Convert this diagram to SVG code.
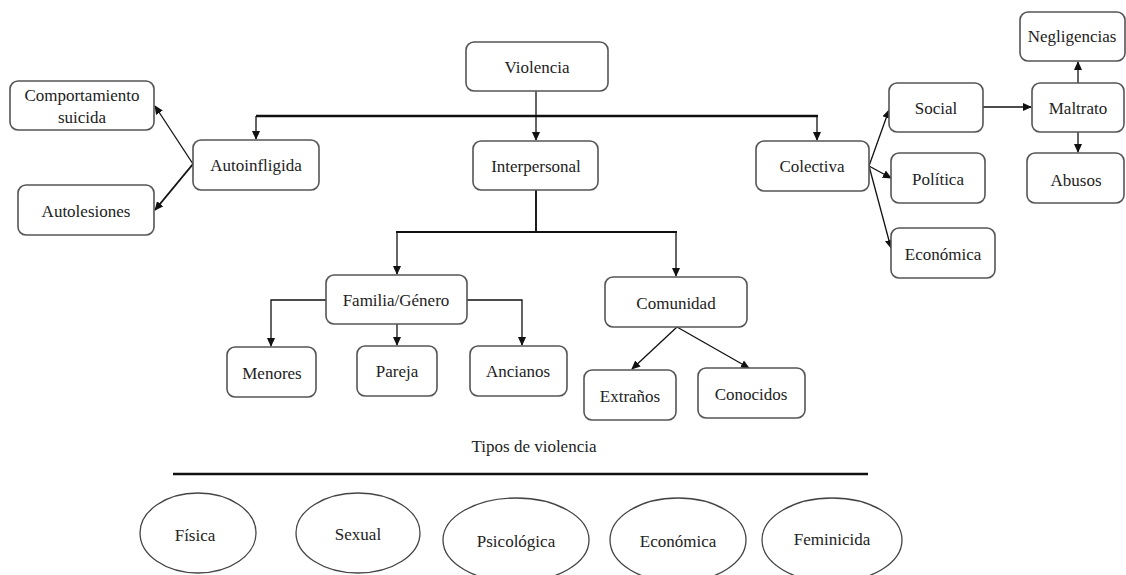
<svg xmlns="http://www.w3.org/2000/svg" width="1126" height="575" viewBox="0 0 1126 575">
  <style>
    .box { fill: #ffffff; stroke: #555555; stroke-width: 1.6; }
    .oval { fill: #ffffff; stroke: #444444; stroke-width: 1.3; }
    .lbl { font-family: "Liberation Serif", "Times New Roman", serif; font-size: 17px; fill: #222222; text-anchor: middle; dominant-baseline: central; }
    .edge { fill: none; stroke: #111111; stroke-width: 1.3; }
    .bold { stroke-width: 2.4; }
    .mid { stroke-width: 1.9; }
  </style>
  <defs>
    <marker id="arrow" markerUnits="userSpaceOnUse" markerWidth="9" markerHeight="9" viewBox="0 0 10 10" refX="9" refY="5" orient="auto">
      <path d="M0,0.5 L10,5 L0,9.5 Z" fill="#111111"/>
    </marker>
  </defs>

  <rect width="1126" height="575" fill="#ffffff"/>

  <!-- connectors -->
  <g id="connectors">
    <!-- main bar under Violencia -->
    <path class="edge bold" d="M256,116 H818"/>
    <path class="edge" d="M256,116 V139" marker-end="url(#arrow)"/>
    <path class="edge" d="M817,116 V140" marker-end="url(#arrow)"/>
    <path class="edge" d="M536,91 V140" marker-end="url(#arrow)"/>

    <!-- Autoinfligida branches -->
    <path class="edge" d="M193,164 L155,106" marker-end="url(#arrow)"/>
    <path class="edge mid" d="M193,164 L155,210" marker-end="url(#arrow)"/>

    <!-- Interpersonal branches -->
    <path class="edge mid" d="M536,190 V232"/>
    <path class="edge mid" d="M396,232 H677"/>
    <path class="edge" d="M397,232 V274" marker-end="url(#arrow)"/>
    <path class="edge" d="M676,232 V276" marker-end="url(#arrow)"/>

    <!-- Familia/Género branches -->
    <path class="edge" d="M326,300 H271 V346" marker-end="url(#arrow)"/>
    <path class="edge" d="M397,324 V345" marker-end="url(#arrow)"/>
    <path class="edge" d="M467,300 H522 V345" marker-end="url(#arrow)"/>

    <!-- Comunidad branches -->
    <path class="edge" d="M677,327 L632,369" marker-end="url(#arrow)"/>
    <path class="edge" d="M677,327 L749,368" marker-end="url(#arrow)"/>

    <!-- Colectiva branches -->
    <path class="edge" d="M869,166 L889,110" marker-end="url(#arrow)"/>
    <path class="edge" d="M869,166 L891,178" marker-end="url(#arrow)"/>
    <path class="edge" d="M869,166 L891,248" marker-end="url(#arrow)"/>

    <!-- Social / Maltrato -->
    <path class="edge" d="M983,107 H1031" marker-end="url(#arrow)"/>
    <path class="edge" d="M1078,83 V62" marker-end="url(#arrow)"/>
    <path class="edge" d="M1078,132 V152" marker-end="url(#arrow)"/>

    <!-- separator for violence types -->
    <path class="edge bold" d="M173,474 H868"/>
  </g>

  <g id="violencia">
    <rect class="box" x="466" y="42" width="142" height="49" rx="8"/>
    <text class="lbl" x="537" y="67">Violencia</text>
  </g>
  <g id="autoinfligida">
    <rect class="box" x="193" y="140" width="126" height="50" rx="8"/>
    <text class="lbl" x="256" y="165">Autoinfligida</text>
  </g>
  <g id="interpersonal">
    <rect class="box" x="473" y="141" width="125" height="49" rx="8"/>
    <text class="lbl" x="536" y="166">Interpersonal</text>
  </g>
  <g id="colectiva">
    <rect class="box" x="756" y="141" width="113" height="50" rx="8"/>
    <text class="lbl" x="812" y="166">Colectiva</text>
  </g>
  <g id="comportamiento-suicida">
    <rect class="box" x="10" y="81" width="144" height="49" rx="8"/>
    <text class="lbl" x="82" y="95">Comportamiento</text>
    <text class="lbl" x="82" y="117">suicida</text>
  </g>
  <g id="autolesiones">
    <rect class="box" x="18" y="185" width="136" height="50" rx="8"/>
    <text class="lbl" x="86" y="211">Autolesiones</text>
  </g>
  <g id="social">
    <rect class="box" x="889" y="83" width="94" height="49" rx="8"/>
    <text class="lbl" x="936" y="108">Social</text>
  </g>
  <g id="politica">
    <rect class="box" x="891" y="153" width="94" height="50" rx="8"/>
    <text class="lbl" x="938" y="179">Política</text>
  </g>
  <g id="economica-colectiva">
    <rect class="box" x="891" y="228" width="104" height="50" rx="8"/>
    <text class="lbl" x="943" y="254">Económica</text>
  </g>
  <g id="maltrato">
    <rect class="box" x="1032" y="83" width="92" height="49" rx="8"/>
    <text class="lbl" x="1078" y="108">Maltrato</text>
  </g>
  <g id="negligencias">
    <rect class="box" x="1020" y="12" width="105" height="49" rx="8"/>
    <text class="lbl" x="1072" y="36">Negligencias</text>
  </g>
  <g id="abusos">
    <rect class="box" x="1027" y="153" width="97" height="50" rx="8"/>
    <text class="lbl" x="1076" y="180">Abusos</text>
  </g>
  <g id="familia-genero">
    <rect class="box" x="326" y="275" width="141" height="49" rx="8"/>
    <text class="lbl" x="396" y="300">Familia/Género</text>
  </g>
  <g id="menores">
    <rect class="box" x="227" y="347" width="89" height="50" rx="8"/>
    <text class="lbl" x="272" y="373">Menores</text>
  </g>
  <g id="pareja">
    <rect class="box" x="357" y="346" width="80" height="50" rx="8"/>
    <text class="lbl" x="397" y="371">Pareja</text>
  </g>
  <g id="ancianos">
    <rect class="box" x="470" y="346" width="97" height="50" rx="8"/>
    <text class="lbl" x="518" y="371">Ancianos</text>
  </g>
  <g id="comunidad">
    <rect class="box" x="605" y="277" width="142" height="50" rx="8"/>
    <text class="lbl" x="676" y="303">Comunidad</text>
  </g>
  <g id="extranos">
    <rect class="box" x="584" y="370" width="92" height="50" rx="8"/>
    <text class="lbl" x="630" y="396">Extraños</text>
  </g>
  <g id="conocidos">
    <rect class="box" x="698" y="368" width="107" height="50" rx="8"/>
    <text class="lbl" x="751" y="394">Conocidos</text>
  </g>

  <!-- types of violence -->
  <g id="tipos-titulo">
    <text class="lbl" x="534" y="446">Tipos de violencia</text>
  </g>
  <g id="fisica">
    <ellipse class="oval" cx="198" cy="533" rx="58" ry="40"/>
    <text class="lbl" x="195" y="535">Física</text>
  </g>
  <g id="sexual">
    <ellipse class="oval" cx="358" cy="533" rx="62" ry="40"/>
    <text class="lbl" x="358" y="534">Sexual</text>
  </g>
  <g id="psicologica">
    <ellipse class="oval" cx="516" cy="540" rx="73" ry="42"/>
    <text class="lbl" x="516" y="541">Psicológica</text>
  </g>
  <g id="economica">
    <ellipse class="oval" cx="678" cy="540" rx="68" ry="42"/>
    <text class="lbl" x="678" y="541">Económica</text>
  </g>
  <g id="feminicida">
    <ellipse class="oval" cx="832" cy="540" rx="70" ry="42"/>
    <text class="lbl" x="832" y="539">Feminicida</text>
  </g>
</svg>
